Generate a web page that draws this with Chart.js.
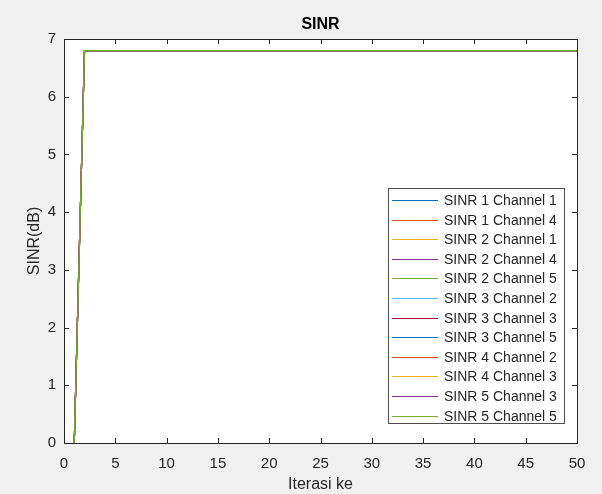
<!DOCTYPE html>
<html>
<head>
<meta charset="utf-8">
<script src="https://cdn.jsdelivr.net/npm/chart.js@4.4.0/dist/chart.umd.min.js"></script>
<style>
html, body { margin: 0; padding: 0; background: #f0f0f0; }
#wrap { width: 602px; height: 494px; }
</style>
</head>
<body>
<div id="wrap"><canvas id="myChart" width="602" height="494"></canvas></div>
<script>
// iterations on the x axis
var iterasi = [1, 2, 3, 4, 5, 6, 7, 8, 9, 10,
               11, 12, 13, 14, 15, 16, 17, 18, 19, 20,
               21, 22, 23, 24, 25, 26, 27, 28, 29, 30,
               31, 32, 33, 34, 35, 36, 37, 38, 39, 40,
               41, 42, 43, 44, 45, 46, 47, 48, 49, 50];

// all twelve curves sit on top of each other in the picture
var sinrValues = [0, 6.8, 6.8, 6.8, 6.8, 6.8, 6.8, 6.8, 6.8, 6.8,
                  6.8, 6.8, 6.8, 6.8, 6.8, 6.8, 6.8, 6.8, 6.8, 6.8,
                  6.8, 6.8, 6.8, 6.8, 6.8, 6.8, 6.8, 6.8, 6.8, 6.8,
                  6.8, 6.8, 6.8, 6.8, 6.8, 6.8, 6.8, 6.8, 6.8, 6.8,
                  6.8, 6.8, 6.8, 6.8, 6.8, 6.8, 6.8, 6.8, 6.8, 6.8];

var seriesLabels = ['SINR 1 Channel 1', 'SINR 1 Channel 4', 'SINR 2 Channel 1', 'SINR 2 Channel 4',
                    'SINR 2 Channel 5', 'SINR 3 Channel 2', 'SINR 3 Channel 3', 'SINR 3 Channel 5',
                    'SINR 4 Channel 2', 'SINR 4 Channel 3', 'SINR 5 Channel 3', 'SINR 5 Channel 5'];

var seriesColors = ['#0072BD', '#D95319', '#EDB120', '#7E2F8E', '#77AC30', '#4DBEEE',
                    '#A2142F', '#0072BD', '#D95319', '#EDB120', '#7E2F8E', '#77AC30'];

var xTicks = [0, 5, 10, 15, 20, 25, 30, 35, 40, 45, 50];
var yTicks = [0, 1, 2, 3, 4, 5, 6, 7];

var FONT = "'Liberation Sans', Arial, Helvetica, sans-serif";
var AXIS_COLOR = '#262626';

var datasets = seriesLabels.map(function (lbl, i) {
    return {
        label: lbl,
        data: iterasi.map(function (it, k) { return { x: it, y: sinrValues[k] }; }),
        borderColor: seriesColors[i],
        backgroundColor: seriesColors[i],
        borderWidth: 1.2,
        pointRadius: 0,
        tension: 0,
        fill: false,
        order: seriesLabels.length - i   // last series ends up on top, like plot()
    };
});

// white plot area, box with inward ticks, title, legend inside
var matlabLook = {
    id: 'matlabLook',
    beforeDatasetsDraw: function (chart) {
        var ctx = chart.ctx, a = chart.chartArea;
        ctx.save();
        ctx.fillStyle = '#ffffff';
        ctx.fillRect(a.left, a.top, a.right - a.left, a.bottom - a.top);
        ctx.restore();
    },
    afterDatasetsDraw: function (chart) {
        var ctx = chart.ctx, a = chart.chartArea;
        var xs = chart.scales.x, ys = chart.scales.y;
        ctx.save();
        ctx.strokeStyle = AXIS_COLOR;
        ctx.lineWidth = 1;
        ctx.beginPath();
        xTicks.forEach(function (t) {
            var px = Math.round(xs.getPixelForValue(t)) + 0.5;
            ctx.moveTo(px, a.bottom); ctx.lineTo(px, a.bottom - 5);
            ctx.moveTo(px, a.top); ctx.lineTo(px, a.top + 5);
        });
        yTicks.forEach(function (t) {
            var py = Math.round(ys.getPixelForValue(t)) + 0.5;
            ctx.moveTo(a.left, py); ctx.lineTo(a.left + 5, py);
            ctx.moveTo(a.right, py); ctx.lineTo(a.right - 5, py);
        });
        ctx.stroke();
        ctx.strokeRect(Math.round(a.left) + 0.5, Math.round(a.top) + 0.5,
                       Math.round(a.right - a.left), Math.round(a.bottom - a.top));

        // title
        ctx.fillStyle = '#000000';
        ctx.font = 'bold 16px ' + FONT;
        ctx.textAlign = 'center';
        ctx.textBaseline = 'middle';
        ctx.fillText('SINR', (a.left + a.right) / 2, 25);

        // legend
        var ds = chart.data.datasets;
        var rowH = 19.6, w = 176, h = 235;
        var lx = a.right - 13 - w, ly = a.bottom - 20 - h;
        ctx.fillStyle = '#ffffff';
        ctx.fillRect(lx, ly, w, h);
        ctx.strokeStyle = '#4d4d4d';
        ctx.strokeRect(Math.round(lx) + 0.5, Math.round(ly) + 0.5, w, h);
        ctx.font = '14px ' + FONT;
        ctx.textAlign = 'left';
        ds.forEach(function (d, i) {
            var cy = Math.round(ly + 12 + i * rowH) + 0.5;
            ctx.strokeStyle = d.borderColor;
            ctx.lineWidth = 1.2;
            ctx.beginPath();
            ctx.moveTo(lx + 4, cy); ctx.lineTo(lx + 50, cy);
            ctx.stroke();
            ctx.fillStyle = AXIS_COLOR;
            ctx.fillText(d.label, lx + 56, cy + 1);
        });
        ctx.restore();
    }
};

var ctx = document.getElementById('myChart');
var myChart = new Chart(ctx, {
    type: 'line',
    data: { datasets: datasets },
    options: {
        responsive: false,
        animation: false,
        layout: { padding: { top: 39, right: 25, left: 0, bottom: 0 } },
        plugins: {
            legend: { display: false },
            title: { display: false },
            tooltip: { enabled: false }
        },
        scales: {
            x: {
                type: 'linear', min: 0, max: 50,
                grid: { display: false }, border: { display: false },
                ticks: { stepSize: 5, color: AXIS_COLOR, padding: 4, maxRotation: 0,
                         font: { family: FONT, size: 15 } },
                title: { display: true, text: 'Iterasi ke', color: AXIS_COLOR,
                         font: { family: FONT, size: 16 }, padding: { top: 0, bottom: 0 } },
                afterFit: function (s) { s.height = 51; }
            },
            y: {
                min: 0, max: 7,
                grid: { display: false }, border: { display: false },
                ticks: { stepSize: 1, color: AXIS_COLOR, padding: 0,
                         font: { family: FONT, size: 15 } },
                title: { display: true, text: 'SINR(dB)', color: AXIS_COLOR,
                         font: { family: FONT, size: 16 }, padding: { top: 25, bottom: 0 } },
                afterFit: function (s) { s.width = 64; }
            }
        }
    },
    plugins: [matlabLook]
});
</script>
</body>
</html>
